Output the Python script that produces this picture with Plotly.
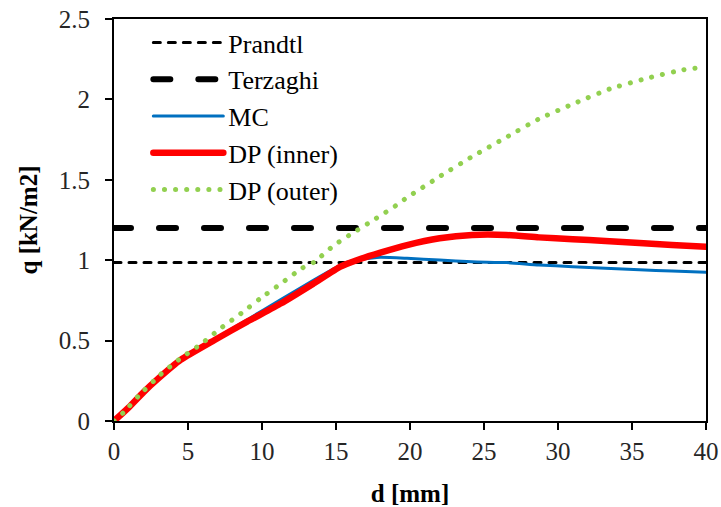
import plotly.graph_objects as go

# ---- data ----
d_range = [0, 40]
prandtl_q = [0.985, 0.985]
terzaghi_q = [1.2, 1.2]

mc_d = [0, 1.0, 2.0, 3.0, 4.5, 6.8, 9.0, 11.3, 13.5, 14.9, 15.8, 16.7, 18.0, 19.8,
        22.0, 24.2, 26.5, 28.7, 31.0, 33.2, 35.5, 37.7, 40]
mc_q = [0, 0.085, 0.18, 0.265, 0.385, 0.51, 0.63, 0.757, 0.877, 0.95, 0.99, 1.005, 1.018, 1.012,
        1.001, 0.99, 0.985, 0.97, 0.96, 0.95, 0.94, 0.933, 0.925]

dpi_d = [0, 1.0, 2.0, 3.0, 4.5, 6.8, 9.0, 11.3, 13.5, 15.3, 16.4, 18.0, 19.8, 22.0,
         24.2, 26.5, 28.7, 31.0, 33.2, 35.5, 37.7, 40]
dpi_q = [0, 0.085, 0.18, 0.265, 0.38, 0.504, 0.618, 0.732, 0.856, 0.96, 1.0, 1.047, 1.094, 1.136,
         1.157, 1.157, 1.142, 1.13, 1.12, 1.107, 1.095, 1.084]

dpo_d = [0, 0.7, 1.7, 3.15, 4.5, 5.9, 7.2, 8.6, 9.9, 11.3, 12.7, 13.5, 14.9, 16.2, 17.7,
         19.1, 19.8, 22.0, 24.2, 26.5, 28.7, 31.1, 33.5, 36.0, 38.4, 40]
dpo_q = [0, 0.058, 0.16, 0.29, 0.39, 0.48, 0.576, 0.67, 0.763, 0.856, 0.95, 0.987, 1.095,
         1.173, 1.26, 1.343, 1.39, 1.52, 1.644, 1.764, 1.878, 1.975, 2.065, 2.131, 2.183, 2.203]

x_ticks = [0, 5, 10, 15, 20, 25, 30, 35, 40]
y_ticks = [0, 0.5, 1, 1.5, 2, 2.5]
y_tick_text = ["0", "0.5", "1", "1.5", "2", "2.5"]

FONT = "Liberation Serif"

fig = go.Figure()
fig.add_trace(go.Scatter(x=d_range, y=prandtl_q, mode="lines", name="Prandtl",
                         legendgroup="a",
                         line=dict(color="black", width=3, dash="7px,8px")))
fig.add_trace(go.Scatter(x=d_range, y=terzaghi_q, mode="lines", name="Terzaghi",
                         legendgroup="b",
                         line=dict(color="black", width=6, dash="17px,28px")))
fig.add_trace(go.Scatter(x=mc_d, y=mc_q, mode="lines", name="MC",
                         legendgroup="c", line_shape="spline", line_smoothing=0.5,
                         line=dict(color="#0070C0", width=3)))
fig.add_trace(go.Scatter(x=dpi_d, y=dpi_q, mode="lines", name="DP (inner)",
                         legendgroup="d", line_shape="spline", line_smoothing=0.5,
                         line=dict(color="#FF0000", width=6.5)))
fig.add_trace(go.Scatter(x=dpo_d, y=dpo_q, mode="lines", name="DP (outer)",
                         legendgroup="e", line_shape="spline", line_smoothing=0.5,
                         line=dict(color="#92D050", width=5, dash="0.1px,11px")))

fig.update_layout(
    width=721, height=507,
    margin=dict(l=114, r=15, t=19, b=86, autoexpand=False),
    paper_bgcolor="white", plot_bgcolor="white",
    font=dict(family=FONT, size=25, color="black"),
    showlegend=True,
    legend=dict(x=0.058, y=1.0, xanchor="left", yanchor="top",
                bgcolor="rgba(0,0,0,0)", font=dict(family=FONT, size=26, color="black"),
                itemwidth=70, tracegroupgap=10, traceorder="normal"),
    xaxis=dict(range=[0, 40], tickvals=x_ticks, ticks="outside", ticklen=7, tickwidth=2,
               tickcolor="black", showline=True, linecolor="black", linewidth=2,
               mirror=True, showgrid=False, zeroline=False, automargin=False,
               tickfont=dict(family=FONT, size=25, color="#262626"),
               title=dict(text="<b>d [mm]</b>", font=dict(family=FONT, size=25, color="black"),
                          standoff=22)),
    yaxis=dict(range=[0, 2.5], tickvals=y_ticks, ticktext=y_tick_text, ticks="outside",
               ticklen=7, tickwidth=2, tickcolor="black", showline=True, linecolor="black",
               linewidth=2, mirror=True, showgrid=False, zeroline=False, automargin=False,
               ticklabelstandoff=10,
               tickfont=dict(family=FONT, size=25, color="#262626"),
               title=dict(text="<b>q [kN/m2]</b>", font=dict(family=FONT, size=25, color="black"),
                          standoff=14)),
)

post = """
function rc(){document.querySelectorAll('path.js-line').forEach(function(p){p.style.strokeLinecap='round';});}
rc(); var gd=document.querySelector('.plotly-graph-div'); if(gd&&gd.on){gd.on('plotly_afterplot', rc);}
"""
fig.write_html("out.html", post_script=post)
